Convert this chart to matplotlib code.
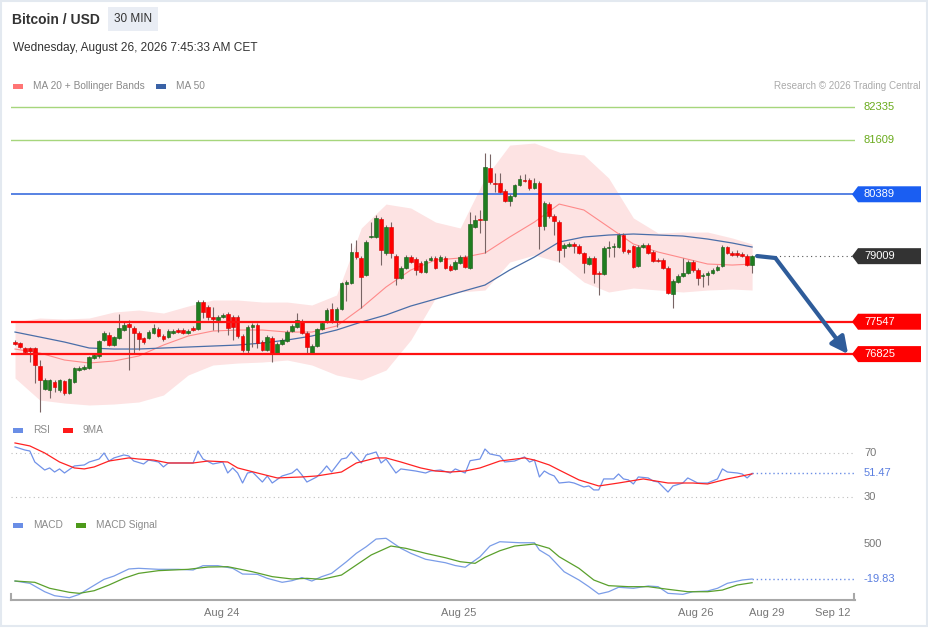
import matplotlib
matplotlib.use("Agg")
import matplotlib.pyplot as plt
from matplotlib.patches import Polygon, Rectangle

plt.rcParams['font.family'] = ['Liberation Sans', 'DejaVu Sans']

# candles, 30 min, Bitcoin / USD
opens = [77094, 77072, 76961, 76961, 76961, 76559, 76046, 76024, 76202, 76024,
         76225, 75957, 76202, 76470, 76492, 76514, 76738, 76782, 77139, 77250,
         77027, 77183, 77362, 77495, 77406, 77295, 77183, 77183, 77295, 77384,
         77228, 77206, 77295, 77362, 77362, 77295, 77406, 77384, 77986, 77875,
         77652, 77585, 77652, 77719, 77652, 77652, 77228, 76916, 77429, 77474,
         77094, 76916, 77183, 76849, 77050, 77116, 77340, 77429, 77563, 77295,
         76849, 77005, 77384, 77540, 77830, 77585, 77830, 78388, 78410, 79101,
         78968, 78588, 79436, 79436, 79837, 79079, 79659, 79012, 78521, 78744,
         78990, 78945, 78856, 78656, 78923, 78968, 78901, 78968, 78789, 78722,
         78856, 78990, 78744, 79659, 79837, 79815, 80975, 80640, 80640, 80462,
         80238, 80350, 80595, 80707, 80707, 80528, 80640, 79681, 80171, 79904,
         79770, 79190, 79235, 79280, 79235, 79079, 78834, 78968, 78633, 78611,
         79190, 79213, 79213, 79480, 79146, 79235, 78789, 79213, 79257, 79101,
         78923, 78923, 78744, 78165, 78432, 78566, 78633, 78879, 78700, 78566,
         78588, 78633, 78700, 78789, 79213, 79079, 79079, 79057, 79012, 78811]
closes = [77050, 76983, 76871, 76894, 76581, 76247, 76247, 76247, 76091, 76247,
          75957, 76269, 76514, 76514, 76537, 76760, 76804, 77116, 77295, 77027,
          77206, 77406, 77474, 77429, 77295, 77161, 77094, 77317, 77406, 77228,
          77161, 77340, 77340, 77317, 77295, 77340, 77362, 77986, 77763, 77652,
          77607, 77652, 77697, 77406, 77429, 77228, 76916, 77429, 77474, 77072,
          76916, 77206, 76849, 77050, 77139, 77317, 77451, 77585, 77295, 76983,
          77005, 77384, 77518, 77808, 77540, 77830, 78410, 78432, 79101, 78990,
          78544, 79324, 79458, 79860, 79146, 79659, 79079, 78521, 78744, 78990,
          78879, 78700, 78656, 78901, 78968, 78744, 78990, 78744, 78700, 78879,
          78990, 78767, 79726, 79815, 79815, 80997, 80662, 80618, 80439, 80238,
          80350, 80595, 80729, 80685, 80528, 80640, 79681, 80194, 79904, 79793,
          79146, 79257, 79280, 79235, 79079, 78856, 78968, 78611, 78611, 79190,
          79213, 79235, 79480, 79124, 79101, 78767, 79213, 79257, 79079, 78901,
          78901, 78744, 78187, 78455, 78566, 78633, 78879, 78700, 78521, 78588,
          78633, 78700, 78767, 79213, 79079, 79034, 79034, 79012, 78811, 79009]
highs = [77139, 77094, 76983, 76983, 76983, 76693, 76292, 76269, 76247, 76269,
         76247, 76292, 76537, 76559, 76581, 76782, 76849, 77139, 77340, 77317,
         77228, 77719, 77540, 77585, 77451, 77340, 77206, 77362, 77495, 77429,
         77273, 77384, 77384, 77406, 77406, 77384, 77451, 78031, 78031, 77920,
         77875, 77697, 77741, 77763, 77697, 77697, 77273, 77474, 77518, 77518,
         77139, 77250, 77228, 77094, 77183, 77362, 77495, 77741, 77607, 77340,
         77050, 77406, 77563, 77853, 77964, 77875, 78432, 78477, 79302, 79369,
         79012, 79369, 79770, 79927, 79882, 79704, 79770, 79057, 78789, 79034,
         79034, 78990, 78901, 78945, 79012, 79012, 79034, 79012, 78834, 78923,
         79034, 79034, 79994, 79927, 80038, 81309, 81287, 80863, 80863, 80506,
         80395, 80618, 80818, 80841, 80751, 80751, 80685, 80238, 80216, 79949,
         79815, 79302, 79324, 79324, 79280, 79101, 79012, 79012, 78678, 79235,
         79347, 79302, 79525, 79525, 79168, 79257, 79257, 79302, 79302, 79146,
         78968, 78968, 78789, 78499, 78611, 78968, 78923, 78923, 78744, 78633,
         78678, 78744, 78811, 79257, 79235, 79124, 79146, 79101, 79057, 79034]
lows = [77027, 76961, 76849, 76648, 76180, 75533, 76024, 75846, 75979, 75979,
        75912, 75935, 76180, 76448, 76470, 76492, 76715, 76738, 77116, 77005,
        77005, 77161, 77340, 76470, 76849, 76916, 77050, 77161, 77273, 77206,
        77116, 77183, 77273, 77295, 77273, 77273, 77340, 77362, 77630, 77585,
        77362, 77317, 77630, 77250, 77139, 77183, 76871, 76849, 76983, 76961,
        76894, 76894, 76648, 76827, 77027, 77094, 77317, 77406, 77273, 76849,
        76827, 76983, 77362, 77518, 77518, 77429, 77808, 78008, 78388, 78945,
        77853, 78566, 79413, 79413, 78811, 79034, 78968, 78365, 78499, 78722,
        78856, 78588, 78633, 78633, 78901, 78722, 78879, 78722, 78678, 78700,
        78834, 78744, 78722, 79637, 79525, 79079, 80618, 80439, 80417, 80216,
        80127, 80328, 80573, 80662, 80484, 80506, 79168, 79592, 79860, 79481,
        78878, 78990, 79213, 79079, 79057, 78633, 78811, 78410, 78143, 78588,
        78990, 78990, 79190, 79079, 79057, 78744, 78767, 79190, 79057, 78879,
        78879, 78722, 78165, 77853, 78410, 78544, 78611, 78656, 78365, 78321,
        78365, 78611, 78678, 78767, 79057, 79012, 78990, 78990, 78789, 78633]

# moving averages and bands, read every 5 candles
ma_idx = [0, 5, 10, 15, 20, 25, 30, 35, 40, 45, 50, 55, 60, 65, 70, 75, 80, 85,
          90, 95, 100, 105, 110, 115, 120, 125, 130, 135, 140, 145, 149]
ma20 = [76938, 76849, 76693, 76626, 76671, 76782, 77027, 77228, 77340, 77362,
        77362, 77317, 77317, 77451, 77853, 78321, 78700, 78923, 78968, 79079,
        79436, 79770, 80171, 80038, 79659, 79280, 79101, 78968, 78834, 78811, 78834]
bb_upper = [77540, 77630, 77607, 77630, 77763, 77808, 77741, 77897, 78031, 78031,
            77986, 77986, 77920, 78143, 79637, 80171, 80083, 79770, 79637, 80752,
            81486, 81532, 81331, 81265, 80752, 79860, 79525, 79547, 79547, 79414, 79280]
bb_lower = [76292, 75801, 75734, 75690, 75712, 75757, 75913, 76359, 76582, 76626,
            76648, 76693, 76582, 76359, 76247, 76470, 77139, 78076, 78210, 78254,
            78878, 79035, 78878, 78432, 78210, 78299, 78254, 78210, 78254, 78276, 78254]
ma50 = [77317, 77206, 77094, 76961, 76938, 76938, 76961, 76983, 77005, 77027,
        77072, 77139, 77228, 77362, 77540, 77697, 77897, 78053, 78210, 78365,
        78700, 78990, 79324, 79436, 79480, 79503, 79480, 79458, 79391, 79302, 79213]

levels_green = [82335, 81609]
level_blue = 80389
level_last = 79009
levels_red = [77547, 76825]

rsi_idx = [0, 2, 3, 4, 6, 7, 8, 9, 10, 12, 14, 15, 17, 18, 19, 20, 22, 23, 24, 26,
           27, 29, 30, 31, 33, 36, 37, 38, 40, 42, 43, 44, 45, 46, 47, 48, 50, 51,
           52, 54, 56, 57, 58, 59, 61, 62, 63, 64, 66, 67, 68, 70, 71, 73, 74, 75,
           77, 78, 81, 83, 84, 86, 88, 89, 91, 92, 94, 95, 96, 98, 99, 101, 103,
           104, 105, 106, 107, 108, 109, 110, 112, 113, 115, 116, 117, 118, 119,
           121, 122, 123, 124, 125, 126, 128, 129, 130, 132, 133, 135, 136, 138,
           140, 142, 143, 144, 146, 147, 148, 149]
rsi_val = [75.5, 72.7, 71.8, 61.8, 54.5, 56.4, 52.7, 55.5, 51.8, 58.2, 59.1, 61.8,
           64.5, 70.0, 62.7, 65.5, 68.2, 67.3, 62.7, 60.0, 63.6, 61.8, 57.3, 60.9,
           60.9, 60.9, 71.8, 64.5, 60.0, 61.8, 51.8, 56.4, 51.8, 42.7, 51.8, 52.7,
           43.6, 49.1, 42.7, 49.1, 51.8, 55.5, 50.0, 43.6, 48.2, 52.7, 58.2, 52.7,
           64.5, 65.5, 70.9, 60.9, 68.2, 70.9, 60.9, 64.5, 51.8, 55.5, 53.6, 51.8,
           53.6, 54.5, 51.8, 55.5, 51.8, 63.0, 64.5, 73.6, 69.1, 67.3, 61.8, 62.7,
           66.4, 61.8, 63.6, 48.2, 53.6, 50.9, 49.1, 42.7, 43.6, 42.7, 39.1, 40.0,
           36.4, 36.4, 46.4, 46.4, 50.9, 46.4, 45.5, 41.8, 48.2, 47.3, 44.5, 43.6,
           34.5, 40.0, 42.7, 47.3, 42.7, 42.7, 46.4, 55.5, 52.7, 51.8, 50.9, 47.3, 51.47]
rsi_ma_idx = [0, 3, 6, 9, 12, 14, 16, 19, 23, 25, 28, 31, 36, 39, 43, 45, 49, 53,
              58, 61, 66, 69, 73, 75, 78, 82, 85, 88, 91, 94, 98, 103, 105, 108,
              110, 114, 118, 122, 127, 132, 137, 140, 144, 149]
rsi_ma_val = [79.1, 76.4, 70.0, 61.8, 56.4, 55.5, 57.3, 62.7, 65.5, 64.5, 63.6, 60.9,
              60.9, 62.7, 61.8, 56.4, 51.8, 47.3, 48.2, 49.1, 52.7, 60.9, 65.5, 65.5,
              61.8, 56.4, 53.6, 52.7, 53.6, 56.4, 62.7, 65.5, 63.6, 59.1, 54.5, 45.5,
              40.0, 42.7, 46.4, 42.7, 42.7, 41.8, 46.4, 51.0]

macd_idx = [0, 3, 6, 8, 11, 13, 15, 18, 20, 23, 25, 29, 33, 36, 38, 41, 44, 46, 49,
            51, 54, 56, 58, 60, 62, 64, 67, 69, 71, 73, 75, 78, 80, 83, 87, 89, 91,
            94, 96, 98, 102, 105, 106, 108, 111, 114, 116, 118, 120, 122, 125, 128,
            130, 132, 135, 137, 140, 142, 144, 147, 149]
macd_val = [-50, -84, -209, -268, -298, -248, -158, -25, 24, 129, 139, 124, 124, 114,
            178, 178, 139, 54, 49, -10, -69, -45, 1, -50, 15, 64, 237, 362, 460, 574,
            585, 436, 362, 273, 222, 180, 155, 311, 470, 534, 519, 519, 411, 322, 88,
            -35, -134, -243, -209, -143, -158, -124, -134, -233, -248, -209, -198,
            -158, -84, -35, -19.83]
sig_idx = [0, 4, 7, 11, 13, 16, 19, 22, 25, 29, 35, 39, 43, 48, 52, 56, 59, 62, 66,
           69, 72, 76, 79, 83, 87, 90, 93, 95, 98, 101, 105, 108, 110, 114, 117,
           120, 124, 128, 132, 136, 140, 143, 146, 149]
sig_val = [-50, -69, -158, -218, -233, -194, -109, -10, 64, 104, 124, 158, 163, 88,
           15, -20, -10, -25, 39, 188, 337, 470, 436, 362, 296, 237, 213, 302, 400,
           470, 500, 436, 311, 139, -35, -119, -134, -134, -173, -209, -209, -184,
           -109, -75]

tick_pos = [41.85, 89.6, 137.7, 152.0, 165.4]
tick_labels = ['Aug 24', 'Aug 25', 'Aug 26', 'Aug 29', 'Sep 12']

W, H = 929, 629
fig = plt.figure(figsize=(W / 100, H / 100), dpi=100)


def px_axes(l, t, r, b):
    a = fig.add_axes([l / W, 1 - b / H, (r - l) / W, (b - t) / H])
    a.set_axis_off()
    return a


XL = (-0.81, 169.8)
ax = px_axes(11, 95, 855, 415)
ax.set_xlim(XL)
ax.set_ylim(75467, 82603)
rsi_ax = px_axes(11, 440, 855, 505)
rsi_ax.set_xlim(XL)
rsi_ax.set_ylim(22.7, 81.8)
macd_ax = px_axes(11, 535, 855, 600)
macd_ax.set_xlim(XL)
macd_ax.set_ylim(-332, 634)
over = px_axes(0, 0, W, H)
over.set_xlim(0, W)
over.set_ylim(H, 0)


def ypix(a, v):
    return H - a.transData.transform((0, v))[1]


def xpix(a, v):
    return a.transData.transform((v, 0))[0]


# bollinger bands + MAs
ax.fill_between(ma_idx, bb_lower, bb_upper, color='#fde3e3', lw=0, zorder=1)
ax.plot(ma_idx, ma20, color='#ff8a8a', lw=0.8, zorder=2)
ax.plot(ma_idx, ma50, color='#4a6ea8', lw=0.9, zorder=2)

# candles
idx = list(range(len(closes)))
ax.vlines(idx, lows, highs, color='#786464', lw=0.8, zorder=3)
bottoms = [min(o, c) for o, c in zip(opens, closes)]
heights = [max(abs(c - o), 25) for o, c in zip(opens, closes)]
cols = ['#1f7d1f' if c >= o else '#ff0000' for o, c in zip(opens, closes)]
edges = ['#145a14' if c >= o else '#d40000' for o, c in zip(opens, closes)]
ax.bar(idx, heights, 0.74, bottom=bottoms, color=cols, edgecolor=edges, lw=0.4, zorder=4)

# levels
for v in levels_green:
    ax.axhline(v, color='#a6d67c', lw=1, zorder=2)
    over.text(864, ypix(ax, v), str(v), color='#6aab1c', fontsize=8, va='center')
ax.axhline(level_blue, color='#4a78e0', lw=1.3, zorder=2)
for v in levels_red:
    ax.axhline(v, color='#ff1111', lw=1.6, zorder=5)
ax.plot([153.7, XL[1]], [level_last, level_last], color='#555555', lw=0.8,
        ls=(0, (1, 3)), clip_on=False, zorder=2)

boxes = [(level_blue, '#1a5ef2'), (level_last, '#333333'),
         (levels_red[0], '#ff0000'), (levels_red[1], '#ff0000')]
for v, c in boxes:
    yc = ypix(ax, v)
    over.add_patch(Polygon([(852, yc), (858, yc - 8), (921, yc - 8), (921, yc + 8), (858, yc + 8)],
                           closed=True, color=c, lw=0))
    over.text(864, yc, str(v), color='white', fontsize=8, va='center')

# forecast arrow
arrow_col = '#2e5c9a'
ax.plot([150, 153.7], [79012, 78968], color=arrow_col, lw=3, solid_capstyle='round',
        clip_on=False, zorder=6)
ax.annotate('', xy=(168.4, levels_red[1]), xytext=(153.7, 78968), annotation_clip=False,
            arrowprops=dict(arrowstyle='-|>,head_length=1.0,head_width=0.5', color=arrow_col,
                            lw=3, shrinkA=0, shrinkB=0, mutation_scale=10), zorder=6)

# RSI panel
for v in [70, 30]:
    rsi_ax.axhline(v, color='#bdbdbd', lw=0.8, ls=(0, (1, 3)))
rsi_ax.plot([149, XL[1]], [51.47, 51.47], color='#6d8fe6', lw=1, ls=(0, (1, 2)))
rsi_ax.plot(rsi_idx, rsi_val, color='#7192e8', lw=0.9)
rsi_ax.plot(rsi_ma_idx, rsi_ma_val, color='#ff2222', lw=0.9)
over.text(864, ypix(rsi_ax, 70), '70', color='#777777', fontsize=8, va='center')
over.text(864, ypix(rsi_ax, 51.47), '51.47', color='#5b7fe0', fontsize=8, va='center')
over.text(864, ypix(rsi_ax, 30), '30', color='#777777', fontsize=8, va='center')

# MACD panel
macd_ax.plot([149, XL[1]], [-19.83, -19.83], color='#6d8fe6', lw=1, ls=(0, (1, 2)))
macd_ax.plot(macd_idx, macd_val, color='#7b9de8', lw=0.9)
macd_ax.plot(sig_idx, sig_val, color='#5aa02c', lw=0.9)
over.text(864, ypix(macd_ax, 500), '500', color='#777777', fontsize=8, va='center')
over.text(864, ypix(macd_ax, -19.83), '-19.83', color='#5b7fe0', fontsize=8, va='center')

# time axis
over.plot([11, 855], [600, 600], color='#a8a8a8', lw=1.5)
over.plot([11.5, 11.5], [594, 600], color='#a8a8a8', lw=1.5)
over.plot([854.5, 854.5], [594, 600], color='#a8a8a8', lw=1.5)
for t, lab in zip(tick_pos, tick_labels):
    over.text(xpix(macd_ax, t), 613, lab, color='#777777', fontsize=8, ha='center', va='center')

# legends
def legend_item(x, y, color, label):
    over.add_patch(Rectangle((x, y - 2.5), 10, 5, color=color, lw=0))
    over.text(x + 20, y, label, color='#8a8a8a', fontsize=7.3, va='center')


legend_item(13, 86, '#ff7575', 'MA 20 + Bollinger Bands')
legend_item(156, 86, '#3a62a6', 'MA 50')
legend_item(13, 430, '#6a8ee6', 'RSI')
legend_item(63, 430, '#ff1a1a', '9MA')
legend_item(13, 525, '#6a8ee6', 'MACD')
legend_item(76, 525, '#4d9a1a', 'MACD Signal')

over.text(921, 86, 'Research \u00a9 2026 Trading Central', color='#aaaaaa', fontsize=7.1,
          ha='right', va='center')

# header
over.text(12, 20, 'Bitcoin / USD', color='#333333', fontsize=10, fontweight='bold', va='center')
over.add_patch(Rectangle((108, 7), 50, 24, color='#e9edf4', lw=0))
over.text(133, 19.5, '30 MIN', color='#333333', fontsize=8.5, ha='center', va='center')
over.text(13, 48, 'Wednesday, August 26, 2026 7:45:33 AM CET', color='#333333', fontsize=8.6,
          va='center')

over.add_patch(Rectangle((1, 1), 926, 625, fill=False, edgecolor='#e3e9f0', lw=1.5))

fig.savefig('out.png', dpi=100)
